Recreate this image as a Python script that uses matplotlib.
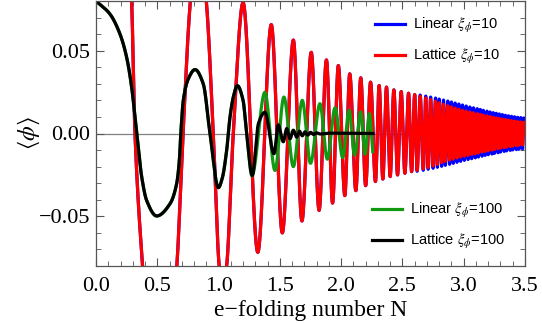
import numpy as np
import matplotlib
matplotlib.use('Agg')
import matplotlib.pyplot as plt
from matplotlib.ticker import MultipleLocator

plt.rcParams['mathtext.fontset'] = 'stix'

# ---- data (knots along each curve) ----
# xi = 10 (lattice and linear share the knot positions)
xi10_N = [0.0, 0.29, 0.318, 0.38, 0.52, 0.66, 0.71, 0.77, 0.835, 0.90,
          0.957, 1.005, 1.035, 1.066, 1.12, 1.20, 1.32, 1.43, 1.52, 1.61,
          1.68, 1.756, 1.82, 1.88, 1.93, 1.977, 2.03, 2.07, 2.12, 2.16,
          2.20, 2.24, 2.28, 2.31, 2.34, 2.37, 2.40, 2.43, 2.46, 2.49,
          2.52, 2.55, 2.575, 2.60, 2.62, 2.645, 2.67, 2.69, 2.71, 2.73,
          2.75, 2.77, 2.785, 2.80, 2.82, 2.835, 2.85, 2.87, 2.885, 2.90,
          2.915, 2.93, 2.945, 2.96, 2.975, 2.99, 3.005, 3.02, 3.035, 3.05,
          3.065, 3.08, 3.095, 3.11, 3.12, 3.135, 3.15, 3.16, 3.175, 3.19,
          3.20, 3.215, 3.23, 3.24, 3.25, 3.265, 3.28, 3.29, 3.30, 3.315,
          3.33, 3.34, 3.35, 3.365, 3.38, 3.39, 3.40, 3.415, 3.43, 3.44,
          3.45, 3.465, 3.48, 3.49, 3.50]
lattice10 = [0.30, 0.08, 0.0, -0.08, -0.20, -0.08, 0.0, 0.08, 0.12, 0.08,
             0.0, -0.08, -0.095, -0.08, 0.0, 0.079, -0.0717, 0.0657, -0.060, 0.0564,
             -0.0528, 0.049, -0.0464, 0.0444, -0.042, 0.041, -0.0375, 0.036, -0.0345, 0.0336,
             -0.0315, 0.031, -0.029, 0.029, -0.0275, 0.028, -0.026, 0.0263, -0.025, 0.0253,
             -0.024, 0.0243, -0.023, 0.0235, -0.0222, 0.0225, -0.0213, 0.0215, -0.0205, 0.0205,
             -0.0196, 0.0195, -0.0186, 0.0185, -0.0176, 0.0176, -0.0168, 0.0168, -0.016, 0.016,
             -0.0154, 0.0153, -0.0148, 0.0146, -0.0142, 0.014, -0.0137, 0.0135, -0.0132, 0.013,
             -0.0127, 0.0125, -0.0122, 0.012, -0.0117, 0.0115, -0.0112, 0.011, -0.0108, 0.0106,
             -0.0104, 0.0102, -0.0100, 0.0098, -0.0096, 0.0094, -0.0092, 0.009, -0.0088, 0.0087,
             -0.0085, 0.0084, -0.0082, 0.0081, -0.0079, 0.0078, -0.0076, 0.0075, -0.0073, 0.0072,
             -0.0071, 0.007, -0.0069, 0.0068, 0.0]
linear10 = [0.30, 0.08, 0.0, -0.08, -0.20, -0.08, 0.0, 0.08, 0.12, 0.08,
            0.0, -0.08, -0.095, -0.08, 0.0, 0.079, -0.0717, 0.0657, -0.060, 0.0564,
            -0.0528, 0.049, -0.0464, 0.0444, -0.042, 0.041, -0.0375, 0.036, -0.0345, 0.0336,
            -0.0315, 0.031, -0.029, 0.029, -0.0275, 0.028, -0.026, 0.0263, -0.025, 0.0253,
            -0.024, 0.0243, -0.023, 0.0235, -0.0228, 0.0232, -0.0222, 0.0226, -0.0216, 0.022,
            -0.021, 0.0214, -0.0204, 0.0208, -0.0198, 0.0202, -0.0192, 0.0196, -0.0186, 0.019,
            -0.018, 0.0184, -0.0174, 0.0178, -0.0168, 0.0172, -0.0162, 0.0166, -0.0157, 0.016,
            -0.0152, 0.0155, -0.0147, 0.015, -0.0142, 0.0145, -0.0137, 0.014, -0.0132, 0.0135,
            -0.0128, 0.013, -0.0124, 0.0126, -0.012, 0.0122, -0.0116, 0.0118, -0.0112, 0.0114,
            -0.0108, 0.011, -0.0105, 0.0107, -0.0102, 0.0104, -0.0099, 0.0101, -0.0097, 0.0098,
            -0.0095, 0.0096, -0.0093, 0.0094, 0.0]

# xi = 100
lat100_N = [0.0, 0.114, 0.196, 0.25, 0.291, 0.332, 0.373, 0.413, 0.495, 0.604,
            0.658, 0.680, 0.692, 0.712, 0.753, 0.808, 0.875, 0.93, 0.998, 1.03,
            1.066, 1.093, 1.12, 1.153, 1.20, 1.229, 1.275, 1.325, 1.378, 1.452,
            1.487, 1.528, 1.556, 1.583, 1.61, 1.637, 1.66, 1.683, 1.705, 1.727,
            1.75, 1.775, 1.80, 1.83, 1.90, 2.26]
lat100 = [0.080, 0.0721, 0.060, 0.046, 0.0279, 0.0, -0.0263, -0.0404, -0.0498, -0.0424,
          -0.0303, -0.0163, 0.0, 0.0199, 0.033, 0.0386, 0.030, 0.0, -0.0327, -0.027,
          -0.0102, 0.0098, 0.0219, 0.0289, 0.020, 0.0, -0.0253, 0.006, 0.0128, -0.0122,
          0.0052, -0.0050, 0.0030, -0.0032, 0.0020, -0.0022, 0.0014, -0.0014, 0.0010, -0.0010,
          0.0007, -0.0006, 0.0004, -0.0003, 0.0002, 0.0]
lin100_N = [0.0, 0.114, 0.196, 0.25, 0.291, 0.332, 0.373, 0.413, 0.495, 0.604,
            0.658, 0.680, 0.692, 0.712, 0.753, 0.808, 0.875, 0.93, 0.998, 1.03,
            1.066, 1.093, 1.12, 1.153, 1.20, 1.229, 1.272, 1.378, 1.46, 1.533,
            1.61, 1.683, 1.75, 1.827, 1.887, 1.95, 2.013, 2.065, 2.11, 2.16,
            2.195, 2.23, 2.258]
lin100 = [0.080, 0.0721, 0.060, 0.046, 0.0279, 0.0, -0.0263, -0.0404, -0.0498, -0.0424,
          -0.0303, -0.0163, 0.0, 0.0199, 0.033, 0.0386, 0.030, 0.0, -0.0327, -0.027,
          -0.0102, 0.0098, 0.0219, 0.0289, 0.020, 0.0, -0.0255, 0.0249, -0.0223, 0.022,
          -0.020, 0.020, -0.018, 0.018, -0.0155, 0.0155, -0.0145, 0.014, -0.013, 0.013,
          -0.0125, 0.012, -0.011]


def smooth(xk, yk, num=12000):
    # monotone cubic (pchip) through the knots
    xk = np.asarray(xk, float)
    yk = np.asarray(yk, float)
    h = np.diff(xk)
    d = np.diff(yk) / h
    m = np.zeros_like(xk)
    for k in range(1, len(xk) - 1):
        if d[k - 1] * d[k] > 0:
            w1 = 2 * h[k] + h[k - 1]
            w2 = h[k] + 2 * h[k - 1]
            m[k] = (w1 + w2) / (w1 / d[k - 1] + w2 / d[k])
    m[0] = d[0]
    m[-1] = d[-1]
    x = np.linspace(xk[0], xk[-1], num)
    i = np.clip(np.searchsorted(xk, x) - 1, 0, len(h) - 1)
    t = (x - xk[i]) / h[i]
    h00 = 2 * t**3 - 3 * t**2 + 1
    h10 = t**3 - 2 * t**2 + t
    h01 = -2 * t**3 + 3 * t**2
    h11 = t**3 - t**2
    y = h00 * yk[i] + h10 * h[i] * m[i] + h01 * yk[i + 1] + h11 * h[i] * m[i + 1]
    return x, y


fig = plt.figure(figsize=(5.42, 3.23), dpi=100)
ax = fig.add_axes([96 / 542, 1 - 266 / 323, 429 / 542, 265 / 323])

ax.axhline(0, color='#808080', lw=0.9, zorder=1)

lw = 2.3
ax.plot(*smooth(xi10_N, linear10), color='#0000ff', lw=lw, label=r'Linear $\xi_\phi$=10')
ax.plot(*smooth(xi10_N, lattice10), color='#ff0000', lw=lw, label=r'Lattice $\xi_\phi$=10')
ax.plot(*smooth(lin100_N, lin100), color='#119911', lw=lw, label=r'Linear $\xi_\phi$=100')
ax.plot(*smooth(lat100_N, lat100), color='black', lw=lw, label=r'Lattice $\xi_\phi$=100')

ax.set_xlim(0, 3.5)
ax.set_ylim(-0.08, 0.08)
ax.xaxis.set_major_locator(MultipleLocator(0.5))
ax.xaxis.set_minor_locator(MultipleLocator(0.1))
ax.yaxis.set_major_locator(MultipleLocator(0.05))
ax.yaxis.set_minor_locator(MultipleLocator(0.01))
ax.xaxis.set_major_formatter(plt.FuncFormatter(lambda v, p: f'{v:.1f}'))
ax.yaxis.set_major_formatter(plt.FuncFormatter(lambda v, p: f'{v:.2f}'.replace('-', '\u2212')))
ax.tick_params(which='both', direction='in', top=True, right=True, color='#555555')
ax.tick_params(which='major', length=6, width=0.8)
ax.tick_params(which='minor', length=3.5, width=0.6)
ax.tick_params(axis='x', which='major', pad=8)
ax.tick_params(axis='y', which='major', pad=4)
for s in ax.spines.values():
    s.set_color('#555555')
    s.set_linewidth(0.9)
for lab in ax.get_xticklabels() + ax.get_yticklabels():
    lab.set_fontfamily('Liberation Serif')
    lab.set_fontsize(16)

ax.set_xlabel('e\u2212folding number N', fontfamily='Liberation Serif', fontsize=17, labelpad=3)
ax.set_ylabel(r'$\langle\phi\rangle$', fontsize=17, labelpad=-2)

h, lb = ax.get_legend_handles_labels()
leg_kw = dict(loc='upper left', bbox_transform=fig.transFigure, frameon=False,
              borderpad=0, borderaxespad=0, handlelength=2.05, handletextpad=0.55,
              labelspacing=0.85, prop={'family': 'Liberation Sans', 'size': 10.5})
leg1 = ax.legend(h[:2], lb[:2], bbox_to_anchor=(375 / 542, 1 - 16 / 323), **leg_kw)
ax.add_artist(leg1)
ax.legend(h[2:], lb[2:], bbox_to_anchor=(372 / 542, 1 - 201 / 323), **leg_kw)

fig.savefig('out.png', dpi=100)
